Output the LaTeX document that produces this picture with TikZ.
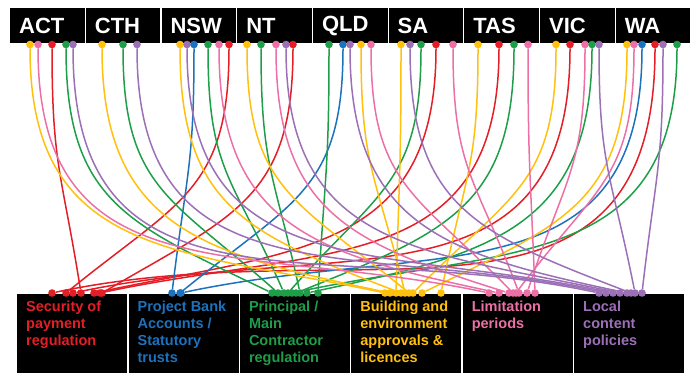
\documentclass[tikz,border=0pt]{standalone}
\usepackage{fontspec}
\setmainfont{Liberation Sans}
\usetikzlibrary{calc}
\usetikzlibrary{backgrounds}

\definecolor{sred}{RGB}{228,30,38}
\definecolor{sblue}{RGB}{28,114,188}
\definecolor{sgreen}{RGB}{30,158,72}
\definecolor{syellow}{RGB}{255,192,14}
\definecolor{spink}{RGB}{236,112,166}
\definecolor{spurple}{RGB}{155,112,182}

\tikzset{
	statebox/.style = {fill=black, text=white, font=\fontsize{22}{24}\selectfont\bfseries, text width=56.5pt, inner xsep=9pt, inner ysep=0pt, align=left, minimum height=35pt, anchor=north west},
	issuebox/.style = {fill=black, minimum width=110pt, minimum height=79pt, inner sep=0pt, anchor=north west},
	issuetext/.style = {font=\fontsize{14.5}{17}\selectfont\bfseries, align=left, inner sep=0pt, anchor=north west},
	dot/.style = {circle, inner sep=0pt, minimum size=7.6pt},
	link/.style = {line width=1.5pt}
}

\begin{document}
\begin{tikzpicture}[x=1pt, y=1pt]
	\useasboundingbox (0,0) rectangle (700,382);
	\foreach \i/\nm/\lab in {0/act/ACT,1/cth/CTH,2/nsw/NSW,3/nt/NT,4/qld/QLD,5/sa/SA,6/tas/TAS,7/vic/VIC,8/wa/WA}
		\node[statebox] (\nm) at ({10+75.7*\i},374) {\lab};
	\foreach \i/\nm in {0/sop,1/pba,2/pmc,3/bea,4/lim,5/lcp}
		\node[issuebox] (\nm) at ({17+111.4*\i},88) {};
	\node[issuetext, text=sred] (sop-t) at ([shift={(9,-7)}]sop.north west) {Security of\\payment\\regulation};
	\node[issuetext, text=sblue] (pba-t) at ([shift={(9,-7)}]pba.north west) {Project Bank\\Accounts /\\Statutory\\trusts};
	\node[issuetext, text=sgreen] (pmc-t) at ([shift={(9,-7)}]pmc.north west) {Principal /\\Main\\Contractor\\regulation};
	\node[issuetext, text=syellow] (bea-t) at ([shift={(9,-7)}]bea.north west) {Building and\\environment\\approvals \&\\licences};
	\node[issuetext, text=spink] (lim-t) at ([shift={(9,-7)}]lim.north west) {Limitation\\periods};
	\node[issuetext, text=spurple] (lcp-t) at ([shift={(9,-7)}]lcp.north west) {Local\\content\\policies};

	\foreach \n/\x/\c in {act-y/30/syellow, act-p/38/spink, act-r/52/sred, act-g/66/sgreen, act-u/73/spurple,
		cth-y/102/syellow, cth-g/123/sgreen, cth-u/137/spurple,
		nsw-y/180/syellow, nsw-u/187/spurple, nsw-b/194/sblue, nsw-g/208/sgreen, nsw-p/219/spink, nsw-r/229/sred,
		nt-y/247/syellow, nt-g/261/sgreen, nt-p/276/spink, nt-u/286/spurple, nt-r/293/sred,
		qld-g/329/sgreen, qld-b/343/sblue, qld-u/350/spurple, qld-y/361/syellow, qld-p/371/spink,
		sa-y/401/syellow, sa-u/410/spurple, sa-g/421/sgreen, sa-r/436/sred, sa-p/453/spink,
		tas-y/478/syellow, tas-r/499/sred, tas-g/514/sgreen, tas-p/528/spink,
		vic-y/556/syellow, vic-r/570/sred, vic-p/585/spink, vic-g/592/sgreen, vic-u/599/spurple,
		wa-y/627/syellow, wa-p/634/spink, wa-b/642/sblue, wa-r/655/sred, wa-u/663/spurple, wa-g/677/sgreen}
		\node[dot, fill=\c] (\n) at (\x,337.5) {};

	\foreach \n/\x/\c in {sop-1/52/sred, sop-2/66/sred, sop-3/73/sred, sop-4/81/sred, sop-5/94/sred, sop-6/100/sred, sop-7/102/sred,
		pba-1/172/sblue, pba-2/180/sblue, pba-3/181/sblue,
		pmc-1/272/sgreen, pmc-2/278/sgreen, pmc-3/284/sgreen, pmc-4/288/sgreen, pmc-5/292/sgreen, pmc-6/296/sgreen, pmc-7/300/sgreen, pmc-8/307/sgreen, pmc-9/318/sgreen,
		bea-1/385/syellow, bea-2/390/syellow, bea-3/396/syellow, bea-4/401/syellow, bea-5/405/syellow, bea-6/409/syellow, bea-7/413/syellow, bea-8/422/syellow, bea-9/441/syellow,
		lim-1/489/spink, lim-2/499/spink, lim-3/509/spink, lim-4/513/spink, lim-5/516/spink, lim-6/519/spink, lim-7/527/spink, lim-8/535/spink,
		lcp-1/599/spurple, lcp-2/606/spurple, lcp-3/613/spurple, lcp-4/620/spurple, lcp-5/627/spurple, lcp-6/631/spurple, lcp-7/635/spurple, lcp-8/642/spurple}
		\node[dot, fill=\c] (\n) at (\x,89) {};

	\begin{scope}[on background layer]
		\foreach \s/\t/\c in {act-r/sop-4/sred, nsw-r/sop-2/sred, nt-r/sop-7/sred, sa-r/sop-5/sred, tas-r/sop-6/sred, vic-r/sop-3/sred, wa-r/sop-1/sred,
			nsw-b/pba-1/sblue, qld-b/pba-2/sblue, wa-b/pba-3/sblue,
			act-g/pmc-1/sgreen, cth-g/pmc-2/sgreen, nsw-g/pmc-3/sgreen, nt-g/pmc-7/sgreen, qld-g/pmc-9/sgreen, sa-g/pmc-4/sgreen, tas-g/pmc-6/sgreen, vic-g/pmc-8/sgreen, wa-g/pmc-5/sgreen,
			act-y/bea-1/syellow, cth-y/bea-2/syellow, sa-y/bea-3/syellow, nsw-y/bea-4/syellow, qld-y/bea-5/syellow, nt-y/bea-6/syellow, vic-y/bea-7/syellow, wa-y/bea-8/syellow, tas-y/bea-9/syellow,
			act-p/lim-1/spink, nsw-p/lim-2/spink, nt-p/lim-3/spink, qld-p/lim-4/spink, sa-p/lim-6/spink, tas-p/lim-8/spink, vic-p/lim-7/spink, wa-p/lim-5/spink,
			act-u/lcp-1/spurple, cth-u/lcp-2/spurple, nsw-u/lcp-3/spurple, nt-u/lcp-4/spurple, qld-u/lcp-5/spurple, sa-u/lcp-6/spurple, vic-u/lcp-7/spurple, wa-u/lcp-8/spurple}
			\draw[link, \c] let \p1=(\s.center), \p2=(\t.center), \n1={90+78*max(-1,min(1,(\x2-\x1)/250))} in (\s) to[out=-90, in=\n1, looseness=1.25] (\t);
	\end{scope}
\end{tikzpicture}
\end{document}
